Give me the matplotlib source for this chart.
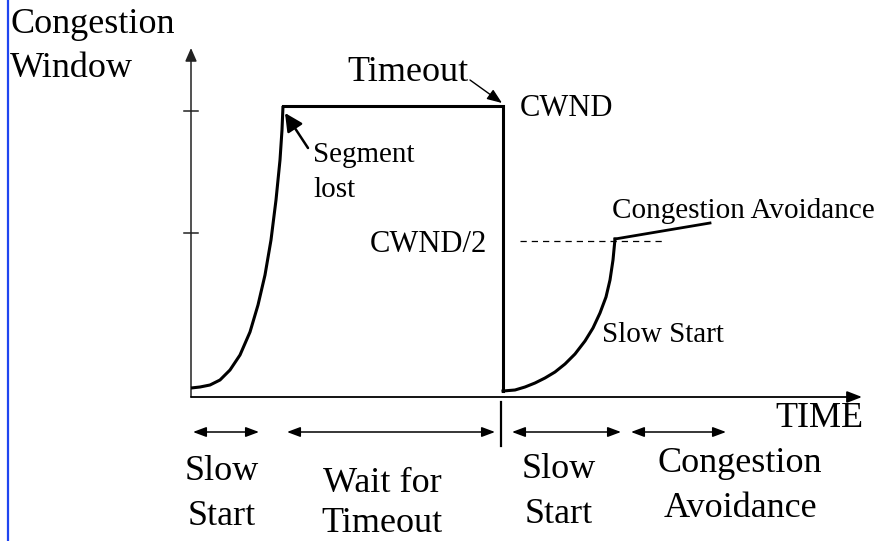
import matplotlib.pyplot as plt
from matplotlib.patches import FancyArrowPatch

# diagram units: time to the right, cwnd upward, origin at the axes corner
# first slow start (exponential rise until the segment is lost)
ss1_t = [0, 9, 19, 29, 39, 49, 59, 67, 74, 80, 85, 89, 91, 92]
ss1_w = [9, 10, 12, 17, 27, 42, 65, 92, 122, 157, 197, 237, 267, 291]

# waiting at CWND until the timeout, then drop
wait_t = [92, 312, 312]
wait_w = [291, 291, 6]

# second slow start up to CWND/2
ss2_t = [312, 324, 334, 344, 354, 364, 374, 384, 394, 402, 409, 415, 419, 422, 424]
ss2_w = [6, 7, 10, 14, 19, 25, 33, 43, 56, 69, 84, 100, 117, 137, 158]

# congestion avoidance (linear growth)
ca_t = [424, 519]
ca_w = [158, 174]

# threshold line at CWND/2
thresh_t = [329, 472]
thresh_w = 156

# y axis ticks (CWND and CWND/2)
tick_w = [286, 164]

# phase spans below the time axis
phase_spans = [(2, 68), (96, 304), (321, 430), (440, 535)]
phase_labels = [("Slow", "Start"), ("Wait for", "Timeout"),
                ("Slow", "Start"), ("Congestion", "Avoidance")]
phase_centers = [31, 191, 368, 549]
phase_base1 = [-83, -95, -81, -75]
phase_base2 = [-128, -135, -126, -120]

plt.rcParams['font.family'] = ['Liberation Serif', 'DejaVu Serif']

fig = plt.figure(figsize=(8.84, 5.41), dpi=100)
ax = fig.add_axes([0, 0, 1, 1])
ax.set_xlim(-191, 693)
ax.set_ylim(-144, 397)
ax.axis('off')

# blue bar on the left edge
ax.axvline(-183, color='#1f45f0', lw=1.6)

# axes with arrow heads
ax.add_patch(FancyArrowPatch((0, 0), (0, 349), arrowstyle='-|>,head_length=0.8,head_width=0.35',
                             mutation_scale=10, lw=1.1, color='#222222', shrinkA=0, shrinkB=0))
ax.add_patch(FancyArrowPatch((0, 0), (671, 0), arrowstyle='-|>,head_length=0.9,head_width=0.35',
                             mutation_scale=10, lw=1.3, color='black', shrinkA=0, shrinkB=0))
for w in tick_w:
    ax.plot([-7, 7], [w, w], color='#222222', lw=1.1)

# the cwnd trace
ax.plot(ss1_t, ss1_w, color='black', lw=2.2, solid_capstyle='butt', solid_joinstyle='round')
ax.plot(wait_t, wait_w, color='black', lw=2.2, solid_joinstyle='miter')
ax.plot(ss2_t, ss2_w, color='black', lw=2.2, solid_joinstyle='round')
ax.plot(ca_t, ca_w, color='black', lw=2.0)
ax.plot(thresh_t, [thresh_w, thresh_w], color='black', lw=0.9, dashes=(5, 4))

# timeout marker below the axis
ax.plot([310, 310], [-5, -49], color='black', lw=1.6)

# phase arrows and labels
for (t0, t1), (l1, l2), xc, b1, b2 in zip(phase_spans, phase_labels, phase_centers,
                                          phase_base1, phase_base2):
    ax.add_patch(FancyArrowPatch((t0, -35), (t1, -35), arrowstyle='<|-|>,head_length=0.8,head_width=0.3',
                                 mutation_scale=10, lw=1.1, color='black', shrinkA=0, shrinkB=0))
    ax.text(xc, b1, l1, fontsize=26, ha='center', va='baseline')
    ax.text(xc, b2, l2, fontsize=26, ha='center', va='baseline')

# annotation arrows
ax.add_patch(FancyArrowPatch((117, 249), (94, 284), arrowstyle='-|>,head_length=0.9,head_width=0.45',
                             mutation_scale=12, lw=1.8, color='black', shrinkA=0, shrinkB=0))
ax.add_patch(FancyArrowPatch((279, 317), (311, 294), arrowstyle='-|>,head_length=0.9,head_width=0.35',
                             mutation_scale=10, lw=1.0, color='black', shrinkA=0, shrinkB=0))

# texts
ax.text(-181, 364, "Congestion", fontsize=26, va='baseline')
ax.text(-181, 320, "Window", fontsize=26, va='baseline')
ax.text(156, 316, "Timeout", fontsize=26, va='baseline')
ax.text(329, 281, "CWND", fontsize=22, va='baseline')
ax.text(122, 235, "Segment", fontsize=21, va='baseline')
ax.text(122, 200, "lost", fontsize=21, va='baseline')
ax.text(179, 145, "CWND/2", fontsize=22, va='baseline')
ax.text(421, 179, "Congestion Avoidance", fontsize=21, va='baseline')
ax.text(411, 55, "Slow Start", fontsize=21, va='baseline')
ax.text(584, -30, "TIME", fontsize=26, va='baseline')

fig.savefig("out.png", dpi=100)
